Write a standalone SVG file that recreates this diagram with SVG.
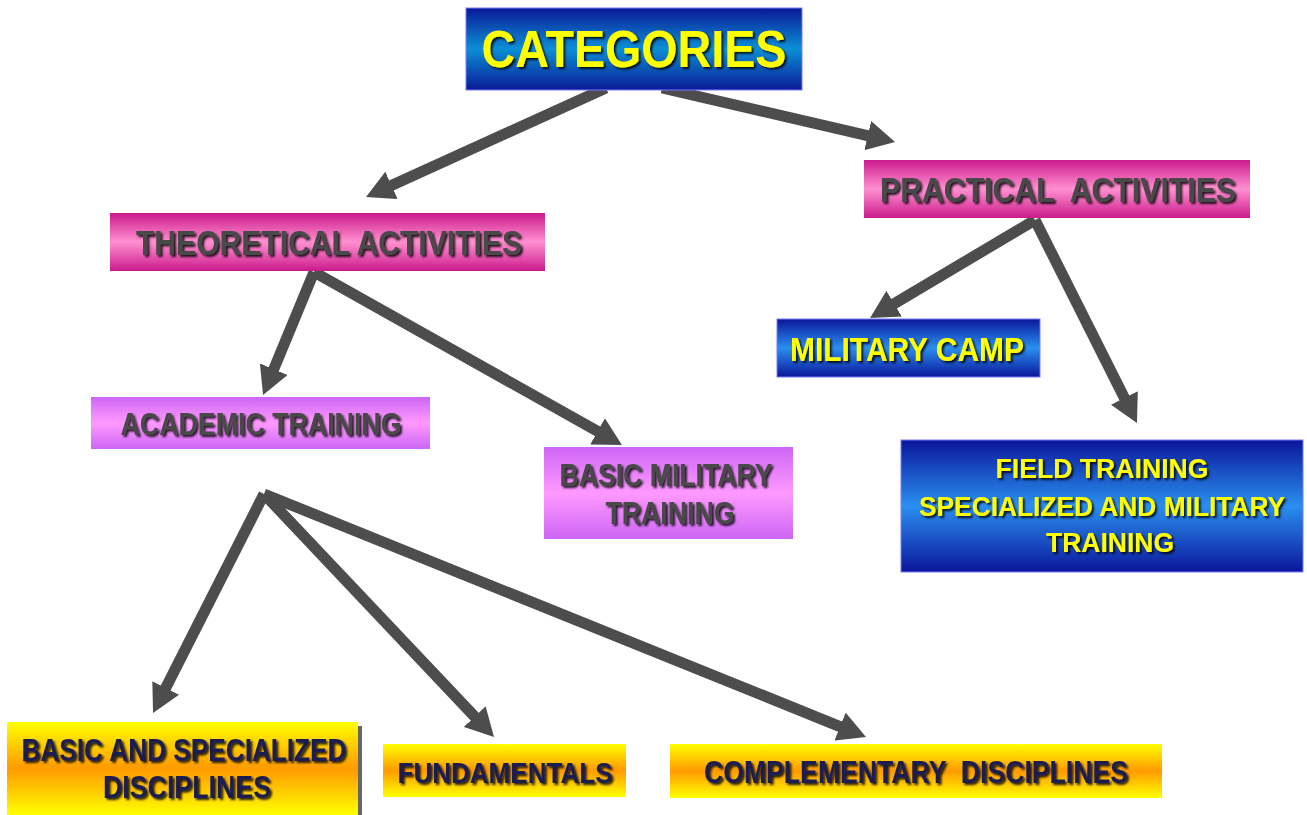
<svg xmlns="http://www.w3.org/2000/svg" width="1307" height="815" viewBox="0 0 1307 815">
<defs>
<linearGradient id="gBlue" x1="0" y1="0" x2="0" y2="1">
<stop offset="0" stop-color="#0a169a"/><stop offset="0.5" stop-color="#2a8ff0"/><stop offset="1" stop-color="#0a169a"/>
</linearGradient>
<linearGradient id="gBlue2" x1="0" y1="0" x2="0" y2="1">
<stop offset="0" stop-color="#0a1a96"/><stop offset="0.5" stop-color="#0c8fd6"/><stop offset="1" stop-color="#0a1a96"/>
</linearGradient>
<linearGradient id="gMag" x1="0" y1="0" x2="0" y2="1">
<stop offset="0" stop-color="#cc1a8c"/><stop offset="0.5" stop-color="#ff90d0"/><stop offset="1" stop-color="#cc1a8c"/>
</linearGradient>
<linearGradient id="gVio" x1="0" y1="0" x2="0" y2="1">
<stop offset="0" stop-color="#cc66f5"/><stop offset="0.5" stop-color="#ff99ff"/><stop offset="1" stop-color="#cc66f5"/>
</linearGradient>
<linearGradient id="gYel" x1="0" y1="0" x2="0" y2="1">
<stop offset="0" stop-color="#ffff00"/><stop offset="0.5" stop-color="#ff9a00"/><stop offset="1" stop-color="#ffff00"/>
</linearGradient>
<filter id="ts" x="-5%" y="-20%" width="110%" height="150%">
<feDropShadow dx="2" dy="2" stdDeviation="1" flood-color="#000" flood-opacity="0.85"/>
</filter>
<marker id="ah" markerUnits="userSpaceOnUse" markerWidth="30" markerHeight="30" refX="2" refY="15" orient="auto">
<path d="M0,0 L28,15 L0,30 z" fill="#4d4d4d"/>
</marker>
<style>
.t{font-family:"Liberation Sans",Arial,sans-serif;font-weight:bold;text-anchor:middle;white-space:pre;filter:url(#ts)}
.y{fill:#ffff00}
.g{fill:#484848}
.n{fill:#1c1f52}
.b{fill:url(#gBlue);stroke:#7a7aff;stroke-width:1}
.b2{fill:url(#gBlue2);stroke:#7a7aff;stroke-width:1}
.m{fill:url(#gMag)}
.v{fill:url(#gVio)}
.o{fill:url(#gYel)}
.c{fill:none;stroke:#4d4d4d;stroke-width:11;stroke-linejoin:miter;marker-end:url(#ah)}
</style>
</defs>
<rect width="1307" height="815" fill="#ffffff"/>
<g id="connectors">
<line class="c" x1="606" y1="88" x2="389.7" y2="186.2"/>
<line class="c" x1="662" y1="88" x2="869.7" y2="136.1"/>
<line class="c" x1="314" y1="272" x2="273" y2="371"/>
<line class="c" x1="314" y1="272" x2="599.3" y2="432.3"/>
<line class="c" x1="1035" y1="220" x2="892.4" y2="304.7"/>
<line class="c" x1="1035" y1="220" x2="1125.3" y2="399.8"/>
<line class="c" x1="264" y1="494" x2="164.8" y2="689.8"/>
<line class="c" x1="264" y1="494" x2="476.1" y2="718.1"/>
<line class="c" x1="264" y1="494" x2="841.9" y2="727.3"/>
</g>
<g id="categories">
<rect class="b2" x="466" y="8" width="336" height="82"/>
<text class="t y" x="634" y="67" font-size="52" textLength="305" lengthAdjust="spacingAndGlyphs">CATEGORIES</text>
</g>
<g id="theoretical">
<rect class="m" x="110" y="213" width="435" height="58"/>
<text class="t g" x="329" y="255" font-size="35" textLength="386" lengthAdjust="spacingAndGlyphs">THEORETICAL ACTIVITIES</text>
</g>
<g id="practical">
<rect class="m" x="864" y="160" width="386" height="58"/>
<text class="t g" x="1058" y="202" font-size="35" textLength="356" lengthAdjust="spacingAndGlyphs">PRACTICAL  ACTIVITIES</text>
</g>
<g id="military-camp">
<rect class="b" x="777" y="319" width="263" height="58"/>
<text class="t y" x="907" y="361" font-size="34" textLength="234" lengthAdjust="spacingAndGlyphs">MILITARY CAMP</text>
</g>
<g id="academic">
<rect class="v" x="91" y="397" width="339" height="52"/>
<text class="t g" x="261" y="435" font-size="32" textLength="281" lengthAdjust="spacingAndGlyphs">ACADEMIC TRAINING</text>
</g>
<g id="basic-military">
<rect class="v" x="544" y="447" width="249" height="92"/>
<text class="t g" x="666" y="486" font-size="32" textLength="213" lengthAdjust="spacingAndGlyphs">BASIC MILITARY</text>
<text class="t g" x="670" y="524" font-size="32" textLength="129" lengthAdjust="spacingAndGlyphs">TRAINING</text>
</g>
<g id="field-training">
<rect class="b" x="901" y="440" width="402" height="132"/>
<text class="t y" x="1102" y="478" font-size="27" textLength="213" lengthAdjust="spacingAndGlyphs">FIELD TRAINING</text>
<text class="t y" x="1102" y="516" font-size="27" textLength="366" lengthAdjust="spacingAndGlyphs">SPECIALIZED AND MILITARY</text>
<text class="t y" x="1110" y="552" font-size="27" textLength="128" lengthAdjust="spacingAndGlyphs">TRAINING</text>
</g>
<g id="basic-specialized">
<rect x="11" y="726" width="351" height="89" fill="#666"/>
<rect class="o" x="7" y="722" width="351" height="93"/>
<text class="t n" x="184" y="761" font-size="32" textLength="325" lengthAdjust="spacingAndGlyphs">BASIC AND SPECIALIZED</text>
<text class="t n" x="187" y="798" font-size="32" textLength="168" lengthAdjust="spacingAndGlyphs">DISCIPLINES</text>
</g>
<g id="fundamentals">
<rect class="o" x="383" y="744" width="243" height="53"/>
<text class="t n" x="505" y="783" font-size="30" textLength="215" lengthAdjust="spacingAndGlyphs">FUNDAMENTALS</text>
</g>
<g id="complementary">
<rect class="o" x="670" y="744" width="492" height="54"/>
<text class="t n" x="916" y="783" font-size="32" textLength="424" lengthAdjust="spacingAndGlyphs">COMPLEMENTARY  DISCIPLINES</text>
</g>
</svg>
